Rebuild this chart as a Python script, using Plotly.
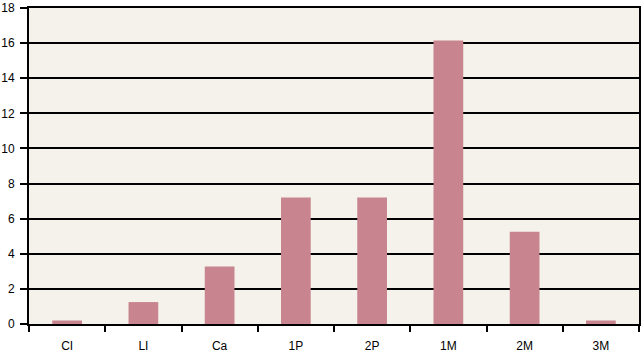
import plotly.graph_objects as go

categories = ["CI", "LI", "Ca", "1P", "2P", "1M", "2M", "3M"]
values = [0.2, 1.25, 3.27, 7.2, 7.2, 16.15, 5.25, 0.2]
y_ticks = [0, 2, 4, 6, 8, 10, 12, 14, 16, 18]

fig = go.Figure(go.Bar(
    x=categories, y=values,
    marker=dict(color="#C8858F", line=dict(width=0)),
    width=0.39,
))

fig.update_layout(
    width=642, height=354,
    margin=dict(l=27, r=1, t=6, b=30),
    paper_bgcolor="white",
    plot_bgcolor="#F5F2EC",
    showlegend=False,
    font=dict(family="Liberation Sans, Arial, sans-serif", size=12, color="black"),
    bargap=0.61,
)
fig.update_xaxes(
    showline=True, linecolor="black", linewidth=2, mirror=True,
    ticks="outside", tickson="boundaries", ticklen=6, tickwidth=2, tickcolor="black",
    showgrid=False, tickfont=dict(size=12, color="black"), ticklabelstandoff=10,
)
fig.update_yaxes(
    range=[0, 18], tickmode="array", tickvals=y_ticks,
    showline=True, linecolor="black", linewidth=2, mirror=True,
    ticks="outside", ticklen=7, tickwidth=2, tickcolor="black",
    showgrid=True, gridcolor="black", gridwidth=2, zeroline=False,
    tickfont=dict(size=12, color="black"), ticklabelstandoff=3,
    ticklabeloverflow="allow",
)

fig.write_html("out.html")
